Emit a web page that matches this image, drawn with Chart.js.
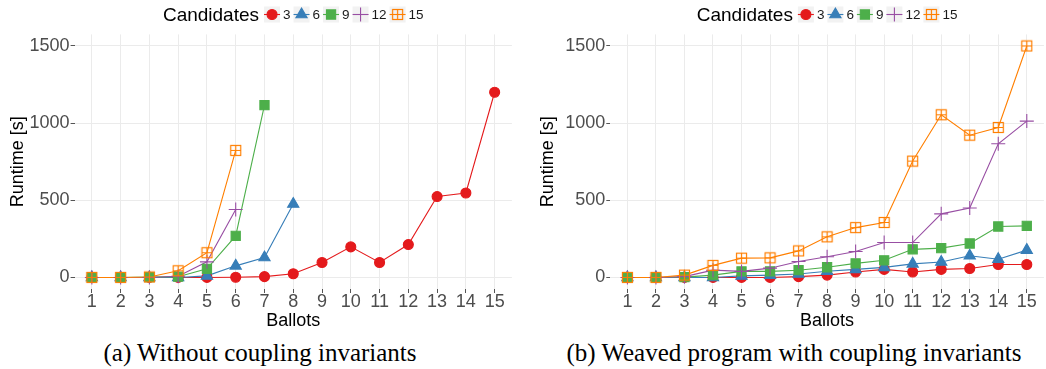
<!DOCTYPE html>
<html>
<head>
<meta charset="utf-8">
<script src="https://cdn.jsdelivr.net/npm/chart.js@4.4.1/dist/chart.umd.min.js"></script>
<style>
html, body { margin: 0; padding: 0; background: #fff; width: 1046px; height: 369px; overflow: hidden; }
.panel { position: absolute; top: 0; height: 332px; }
.caption { position: absolute; top: 340px; font-family: "Liberation Serif", "Times New Roman", serif; font-size: 25px; line-height: 25px; color: #000; white-space: nowrap; transform: translateX(-50%); }
</style>
</head>
<body>
<div class="panel" style="left:0; width:520px"><canvas id="chartA" width="520" height="332"></canvas></div>
<div class="panel" style="left:530px; width:522px"><canvas id="chartB" width="522" height="332"></canvas></div>
<div class="caption" style="left:260px">(a) Without coupling invariants</div>
<div class="caption" style="left:794px">(b) Weaved program with coupling invariants</div>

<script>
// --- 1. Data ---
const ballots = [1, 2, 3, 4, 5, 6, 7, 8, 9, 10, 11, 12, 13, 14, 15];
const yTicks = [0, 500, 1000, 1500];
const candidates = ['3', '6', '9', '12', '15'];

// (a) without coupling invariants (runs stop where they time out)
const plainC3  = [0, 0, 0, 0, 0, 1, 5, 24, 97, 198, 97, 213, 524, 547, 1200];
const plainC6  = [0, 0, 0, 0, 10, 75, 129, 476];
const plainC9  = [0, 0, 2, 5, 56, 269, 1116];
const plainC12 = [0, 0, 0, 8, 101, 440];
const plainC15 = [0, 0, 3, 43, 160, 823];

// (b) weaved program with coupling invariants
const weavedC3  = [0, 0, 0, 0, 0, 0, 5, 15, 35, 52, 35, 52, 58, 84, 84];
const weavedC6  = [0, 0, 0, 0, 10, 15, 22, 40, 52, 65, 88, 100, 140, 118, 177];
const weavedC9  = [0, 0, 2, 15, 39, 39, 47, 66, 91, 111, 182, 190, 220, 330, 334];
const weavedC12 = [0, 0, 5, 47, 39, 60, 103, 134, 168, 226, 226, 412, 450, 866, 1013];
const weavedC15 = [0, 0, 15, 78, 125, 127, 172, 263, 323, 356, 754, 1054, 922, 972, 1500];

// --- 2. Styles ---
const FONT = '"Liberation Sans", Arial, Helvetica, sans-serif';
const seriesColors = ['#E41A1C', '#377EB8', '#4DAF4A', '#984EA3', '#FF7F00'];

// ggplot shape 12: open square with a plus inside
const squarePlus = document.createElement('canvas');
squarePlus.width = 13;
squarePlus.height = 13;
(function(){
    const c = squarePlus.getContext('2d');
    c.strokeStyle = seriesColors[4];
    c.lineWidth = 1.2;
    c.strokeRect(1.5, 1.5, 10, 10);
    c.beginPath();
    c.moveTo(6.5, 1.5); c.lineTo(6.5, 11.5);
    c.moveTo(1.5, 6.5); c.lineTo(11.5, 6.5);
    c.stroke();
})();

const shapes = ['circle', 'triangle', 'rect', 'cross', squarePlus];
const radii = [5, 6.5, 6.5, 7, 6];

function toPoints(values){
    return values.map((v, i) => ({ x: ballots[i], y: v }));
}

function buildDatasets(seriesList){
    const sets = [];
    seriesList.forEach((values, i) => {
        // lines first (drawn below every marker)
        sets.push({
            data: toPoints(values),
            borderColor: seriesColors[i],
            borderWidth: 1.1,
            pointRadius: 0,
            fill: false,
            tension: 0,
            order: 10 + (4 - i)
        });
        sets.push({
            data: toPoints(values),
            showLine: false,
            pointStyle: shapes[i],
            pointRadius: radii[i],
            pointBackgroundColor: seriesColors[i],
            pointBorderColor: seriesColors[i],
            pointBorderWidth: 1.1,
            clip: false,
            order: 4 - i
        });
    });
    return sets;
}

// --- 3. Legend drawn in the top strip ---
const candidateLegend = {
    id: 'candidateLegend',
    afterDraw(chart){
        const { ctx, chartArea } = chart;
        const titleFont = '19px ' + FONT;
        const labelFont = '13.5px ' + FONT;
        ctx.save();
        ctx.font = titleFont;
        const titleW = ctx.measureText('Candidates').width;
        ctx.font = labelFont;
        const labelWs = candidates.map(c => ctx.measureText(c).width);
        const keyW = 16, gapTitle = 5, gapKey = 3, gapItem = 3;
        const total = titleW + gapTitle + candidates.length * (keyW + gapKey)
            + labelWs.reduce((a, b) => a + b, 0) + (candidates.length - 1) * gapItem;
        let x = (chartArea.left + chartArea.right) / 2 - total / 2;
        const cy = 14.5;

        ctx.textBaseline = 'middle';
        ctx.textAlign = 'left';
        ctx.fillStyle = '#000';
        ctx.font = titleFont;
        ctx.fillText('Candidates', x, cy + 1);
        x += titleW + gapTitle;

        candidates.forEach((c, i) => {
            ctx.fillStyle = '#f2f2f2';
            ctx.fillRect(x, cy - 8, keyW, 16);
            ctx.strokeStyle = seriesColors[i];
            ctx.lineWidth = 1.1;
            ctx.beginPath();
            ctx.moveTo(x, cy);
            ctx.lineTo(x + keyW, cy);
            ctx.stroke();
            ctx.fillStyle = seriesColors[i];
            Chart.helpers.drawPoint(ctx, { pointStyle: shapes[i], radius: radii[i], borderWidth: 1.1, rotation: 0 }, x + keyW / 2, cy);
            x += keyW + gapKey;
            ctx.fillStyle = '#1a1a1a';
            ctx.font = labelFont;
            ctx.fillText(c, x, cy + 1);
            x += labelWs[i] + gapItem;
        });
        ctx.restore();
    }
};

// --- 4. Chart factory ---
function makeChart(canvasId, seriesList, yWidth, padRight){
    return new Chart(document.getElementById(canvasId), {
        type: 'line',
        data: { datasets: buildDatasets(seriesList) },
        plugins: [candidateLegend],
        options: {
            responsive: false,
            animation: false,
            devicePixelRatio: 1,
            layout: { padding: { left: 0, right: padRight, top: 34.4, bottom: 0 } },
            plugins: { legend: { display: false }, tooltip: { enabled: false } },
            scales: {
                x: {
                    type: 'linear',
                    min: 0.4,
                    max: 15.6,
                    afterBuildTicks: s => { s.ticks = ballots.map(v => ({ value: v })); },
                    afterFit: s => { s.height = 43; },
                    border: { display: false },
                    grid: { color: '#ebebeb', lineWidth: 1, tickColor: '#555', tickLength: 4 },
                    ticks: { font: { family: FONT, size: 18, lineHeight: 1 }, color: '#4d4d4d', padding: 0, maxRotation: 0, autoSkip: false, callback: v => String(v) },
                    title: { display: true, text: 'Ballots', font: { family: FONT, size: 18 }, color: '#000', padding: 0 }
                },
                y: {
                    type: 'linear',
                    min: -75,
                    max: 1575,
                    afterBuildTicks: s => { s.ticks = yTicks.map(v => ({ value: v })); },
                    afterFit: s => { s.width = yWidth; },
                    border: { display: false },
                    grid: { color: '#ebebeb', lineWidth: 1, tickColor: '#555', tickLength: 4 },
                    ticks: { font: { family: FONT, size: 18 }, color: '#4d4d4d', padding: 1, callback: v => String(v) },
                    title: { display: true, text: 'Runtime [s]', font: { family: FONT, size: 18 }, color: '#000', padding: { top: 7, bottom: 0 } }
                }
            }
        }
    });
}

makeChart('chartA', [plainC3, plainC6, plainC9, plainC12, plainC15], 74.6, 5.6);
makeChart('chartB', [weavedC3, weavedC6, weavedC9, weavedC12, weavedC15], 80.3, 2.3);
</script>
</body>
</html>
